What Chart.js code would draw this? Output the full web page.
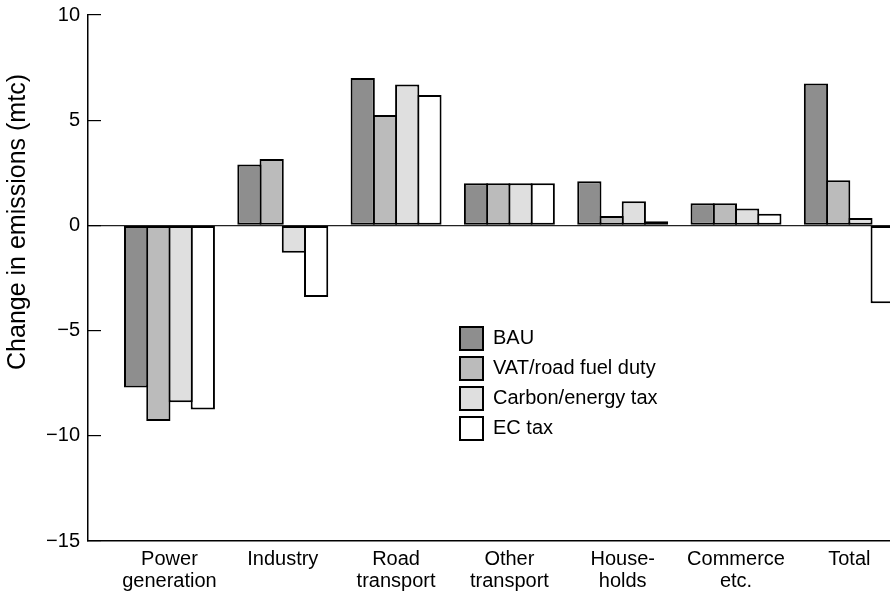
<!DOCTYPE html>
<html>
<head>
<meta charset="utf-8">
<script src="https://cdn.jsdelivr.net/npm/chart.js@4.4.1/dist/chart.umd.min.js"></script>
<style>
  html, body { margin: 0; padding: 0; background: #fff; overflow: hidden; }
  #wrap { width: 890px; height: 591px; }
</style>
</head>
<body>
<div id="wrap"><canvas id="chart" width="890" height="591"></canvas></div>
<script>
// Sectors (x axis) and the four scenarios
const sectors = [["Power", "generation"], "Industry", ["Road", "transport"], ["Other", "transport"], ["House-", "holds"], ["Commerce", "etc."], "Total"];
const bau = [-7.7, 2.9, 7.0, 2.0, 2.1, 1.05, 6.75];
const vatFuel = [-9.3, 3.15, 5.25, 2.0, 0.45, 1.05, 2.15];
const carbonTax = [-8.4, -1.3, 6.7, 2.0, 1.15, 0.8, 0.35];
const ecTax = [-8.75, -3.4, 6.2, 2.0, 0.2, 0.55, -3.7];
const yTicks = [10, 5, 0, -5, -10, -15];

Chart.defaults.font.family = "'Liberation Sans', Arial, sans-serif";
Chart.defaults.color = "#000";

// legend sits inside the plot; the y title is centred a bit above the plot middle
const placeBoxes = {
  id: "placeBoxes",
  afterLayout(chart) {
    const lg = chart.legend;
    const w = lg.width, h = lg.height;
    lg.left = 453;
    lg.top = 320;
    lg.right = lg.left + w;
    lg.bottom = lg.top + h;

    const y = chart.scales.y;
    if (!y._titleMoved) {
      const drawTitle = y.drawTitle;
      y.drawTitle = function () {
        const b = this.bottom;
        this.bottom = 2 * 222 - this.top;
        drawTitle.call(this);
        this.bottom = b;
      };
      y._titleMoved = true;
    }
  }
};

function bars(label, values, color) {
  return {
    label: label,
    data: values,
    backgroundColor: color,
    borderColor: "#000",
    borderWidth: 2,
    borderSkipped: false,
    barPercentage: 1.09,
    categoryPercentage: 0.785
  };
}

const ctx = document.getElementById("chart").getContext("2d");
new Chart(ctx, {
  type: "bar",
  data: {
    labels: sectors.map((s, i) => i),
    datasets: [
      bars("BAU", bau, "#8e8e8e"),
      bars("VAT/road fuel duty", vatFuel, "#bbbbbb"),
      bars("Carbon/energy tax", carbonTax, "#dfdfdf"),
      bars("EC tax", ecTax, "#ffffff")
    ]
  },
  plugins: [placeBoxes],
  options: {
    responsive: false,
    animation: false,
    layout: { padding: { top: 15, left: 0, right: 0, bottom: 0 } },
    plugins: {
      tooltip: { enabled: false },
      legend: {
        position: "chartArea",
        align: "start",
        labels: {
          boxWidth: 23,
          boxHeight: 23,
          padding: 7,
          color: "#000",
          font: { size: 20 }
        }
      }
    },
    scales: {
      x: {
        type: "linear",
        offset: false,
        min: -0.719,
        max: 6.359,
        grid: { display: false, offset: false },
        border: { display: true, color: "#000", width: 1.5 },
        afterBuildTicks: (s) => { s.ticks = sectors.map((_, i) => ({ value: i })); },
        afterFit: (s) => { s.height = 50; },
        ticks: {
          autoSkip: false,
          maxRotation: 0,
          padding: -1,
          font: { size: 20, lineHeight: 1.12 },
          callback: (v) => sectors[v]
        }
      },
      y: {
        min: -15,
        max: 10,
        afterBuildTicks: (s) => { s.ticks = yTicks.map((v) => ({ value: v })); },
        afterFit: (s) => { s.width = 88; s.paddingTop = 0; s.paddingBottom = 0; },
        grid: {
          drawTicks: true,
          tickLength: -13,
          lineWidth: 1.2,
          tickColor: "#000",
          color: (c) => (c.tick && c.tick.value === 0 ? "#222" : "rgba(0,0,0,0)")
        },
        border: { color: "#000", width: 1.5 },
        ticks: {
          padding: 21,
          font: { size: 20 },
          callback: (v) => String(v).replace("-", "\u2212")
        },
        title: {
          display: true,
          text: "Change in emissions (mtc)",
          font: { size: 25 },
          padding: { top: 3, bottom: 0 }
        }
      }
    }
  }
});
</script>
</body>
</html>
